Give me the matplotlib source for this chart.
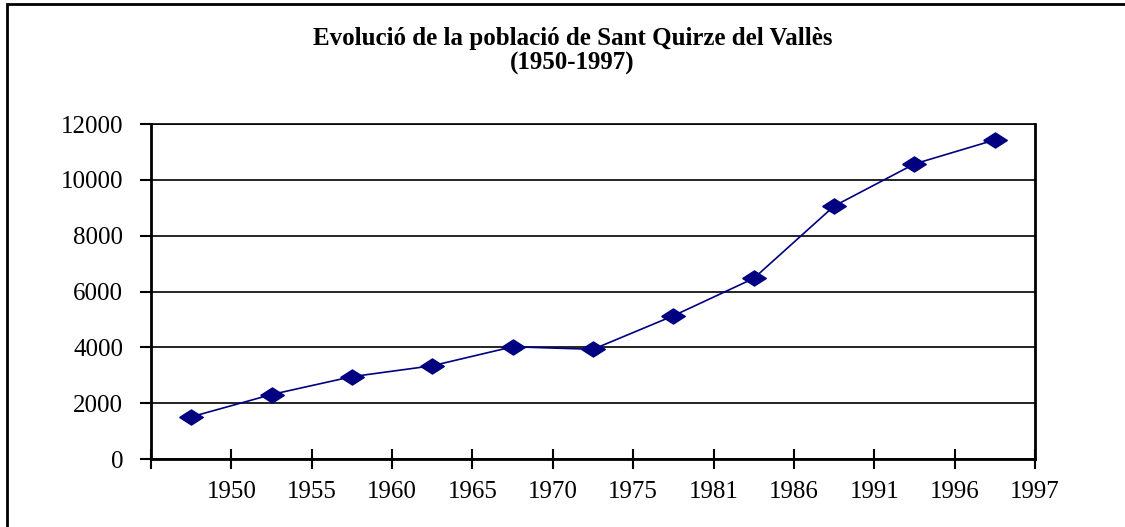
import matplotlib.pyplot as plt
from matplotlib.patches import Rectangle

years = ["1950", "1955", "1960", "1965", "1970", "1975", "1981", "1986", "1991", "1996", "1997"]
population = [1510, 2310, 2950, 3340, 4020, 3930, 5130, 6470, 9060, 10570, 11430]
y_ticks = [0, 2000, 4000, 6000, 8000, 10000, 12000]

plt.rcParams['font.family'] = ['Liberation Serif', 'DejaVu Serif']

fig = plt.figure(figsize=(11.25, 5.27), dpi=100)
ax = fig.add_axes([0.1342, 0.129, 0.7858, 0.6357])

# squashed diamond like the Excel marker
diamond = [(-1, 0), (0, 0.64), (1, 0), (0, -0.64), (-1, 0)]
x = [i + 0.5 for i in range(len(population))]
ax.plot(x, population, color='#000080', linewidth=1.2,
        marker=diamond, markersize=17, markerfacecolor='#000080',
        markeredgecolor='#000080', zorder=3)

ax.set_xlim(0, len(years))
ax.set_ylim(0, 12000)
ax.set_yticks(y_ticks)
ax.set_yticklabels([str(v) for v in y_ticks])
ax.set_xticks(range(len(years) + 1))
ax.set_xticklabels([""] + years)

ax.yaxis.grid(True, color='black', linewidth=1.2)
ax.set_axisbelow(True)
for side in ['left', 'bottom', 'right']:
    ax.spines[side].set_linewidth(2)
    ax.spines[side].set_color('black')
ax.spines['top'].set_linewidth(1.2)

ax.tick_params(axis='y', direction='out', length=8, width=1.5, pad=12, labelsize=18)
ax.tick_params(axis='x', direction='inout', length=14, width=1.5, pad=9, labelsize=18)

fig.text(0.509, 0.903, "Evolució de la població de Sant Quirze del Vallès\n(1950-1997)",
         ha='center', va='center', fontsize=18, fontweight='bold', linespacing=1.1)

# outer chart border (only left and top visible in the crop)
fig.add_artist(Rectangle((0.0062, -0.2), 1.2, 0.2 + 0.9918, transform=fig.transFigure,
                         fill=False, edgecolor='black', linewidth=2, clip_on=False))

fig.savefig("out.png", dpi=100)
